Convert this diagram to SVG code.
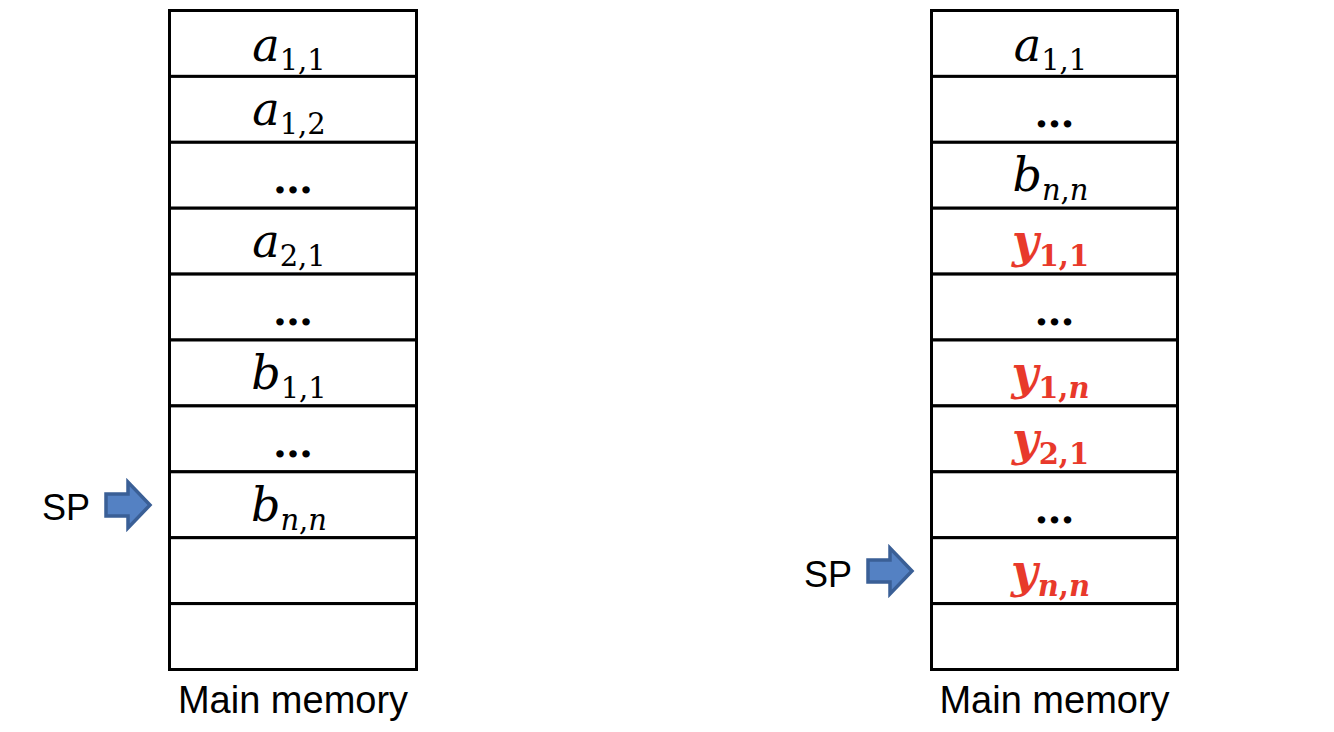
<svg xmlns="http://www.w3.org/2000/svg" width="1334" height="732" viewBox="0 0 1334 732">
<style>
.cell{fill:#fff;stroke:#000;stroke-width:3}
.m{font-family:"DejaVu Serif",serif;font-size:46px;fill:#000;text-anchor:middle}
.i{font-style:italic}
.s{font-size:29px}
.r{fill:#E8392B;font-weight:bold}
.dots{font-family:"DejaVu Serif",serif;font-size:40px;font-weight:bold;fill:#000;text-anchor:middle}
.lbl{font-family:"Liberation Sans",Arial,sans-serif;fill:#000}
.arrow{fill:#5481C3;stroke:#3A5F96;stroke-width:3.5;stroke-linejoin:miter}
</style>
<rect width="1334" height="732" fill="#fff"/>
<g id="left-memory">
  <g id="L0"><rect class="cell" x="169.5" y="10.5" width="247" height="65.9"/><text class="m" x="289" y="61"><tspan class="i">a</tspan><tspan class="s" dy="9">1,1</tspan></text></g>
  <g id="L1"><rect class="cell" x="169.5" y="76.4" width="247" height="65.9"/><text class="m" x="289" y="125"><tspan class="i">a</tspan><tspan class="s" dy="9">1,2</tspan></text></g>
  <g id="L2"><rect class="cell" x="169.5" y="142.3" width="247" height="65.9"/><text class="dots" x="293" y="193">…</text></g>
  <g id="L3"><rect class="cell" x="169.5" y="208.2" width="247" height="65.9"/><text class="m" x="289" y="257"><tspan class="i">a</tspan><tspan class="s" dy="9">2,1</tspan></text></g>
  <g id="L4"><rect class="cell" x="169.5" y="274.1" width="247" height="65.9"/><text class="dots" x="293" y="325">…</text></g>
  <g id="L5"><rect class="cell" x="169.5" y="340" width="247" height="65.9"/><text class="m" x="289" y="389"><tspan class="i">b</tspan><tspan class="s" dy="9">1,1</tspan></text></g>
  <g id="L6"><rect class="cell" x="169.5" y="405.9" width="247" height="65.9"/><text class="dots" x="293" y="457">…</text></g>
  <g id="L7"><rect class="cell" x="169.5" y="471.8" width="247" height="65.9"/><text class="m" x="289" y="521"><tspan class="i">b</tspan><tspan class="s" dy="9"><tspan class="i">n</tspan>,<tspan class="i">n</tspan></tspan></text></g>
  <g id="L8"><rect class="cell" x="169.5" y="537.7" width="247" height="65.9"/></g>
  <g id="L9"><rect class="cell" x="169.5" y="603.6" width="247" height="65.9"/></g>
  <text class="lbl" x="293" y="713" font-size="38" text-anchor="middle">Main memory</text>
</g>
<g id="right-memory">
  <g id="R0"><rect class="cell" x="931.5" y="10.5" width="246" height="65.9"/><text class="m" x="1050.5" y="61"><tspan class="i">a</tspan><tspan class="s" dy="9">1,1</tspan></text></g>
  <g id="R1"><rect class="cell" x="931.5" y="76.4" width="246" height="65.9"/><text class="dots" x="1054.5" y="127">…</text></g>
  <g id="R2"><rect class="cell" x="931.5" y="142.3" width="246" height="65.9"/><text class="m" x="1050.5" y="191"><tspan class="i">b</tspan><tspan class="s" dy="9"><tspan class="i">n</tspan>,<tspan class="i">n</tspan></tspan></text></g>
  <g id="R3"><rect class="cell" x="931.5" y="208.2" width="246" height="65.9"/><text class="m r" x="1050.5" y="257"><tspan class="i">y</tspan><tspan class="s" dy="9">1,1</tspan></text></g>
  <g id="R4"><rect class="cell" x="931.5" y="274.1" width="246" height="65.9"/><text class="dots" x="1054.5" y="325">…</text></g>
  <g id="R5"><rect class="cell" x="931.5" y="340" width="246" height="65.9"/><text class="m r" x="1050.5" y="389"><tspan class="i">y</tspan><tspan class="s" dy="9">1,<tspan class="i">n</tspan></tspan></text></g>
  <g id="R6"><rect class="cell" x="931.5" y="405.9" width="246" height="65.9"/><text class="m r" x="1050.5" y="455"><tspan class="i">y</tspan><tspan class="s" dy="9">2,1</tspan></text></g>
  <g id="R7"><rect class="cell" x="931.5" y="471.8" width="246" height="65.9"/><text class="dots" x="1054.5" y="523">…</text></g>
  <g id="R8"><rect class="cell" x="931.5" y="537.7" width="246" height="65.9"/><text class="m r" x="1050.5" y="587"><tspan class="i">y</tspan><tspan class="s" dy="9"><tspan class="i">n</tspan>,<tspan class="i">n</tspan></tspan></text></g>
  <g id="R9"><rect class="cell" x="931.5" y="603.6" width="246" height="65.9"/></g>
  <text class="lbl" x="1054.5" y="713" font-size="38" text-anchor="middle">Main memory</text>
</g>
<g id="sp-left">
  <text class="lbl" x="42" y="520" font-size="36">SP</text>
  <path class="arrow" d="M106,494 H128 V482 L150,505 L128,528 V516 H106 Z"/>
</g>
<g id="sp-right">
  <text class="lbl" x="804" y="587" font-size="36">SP</text>
  <path class="arrow" d="M868,560 H890 V548 L912,571 L890,594 V582 H868 Z"/>
</g>
</svg>
